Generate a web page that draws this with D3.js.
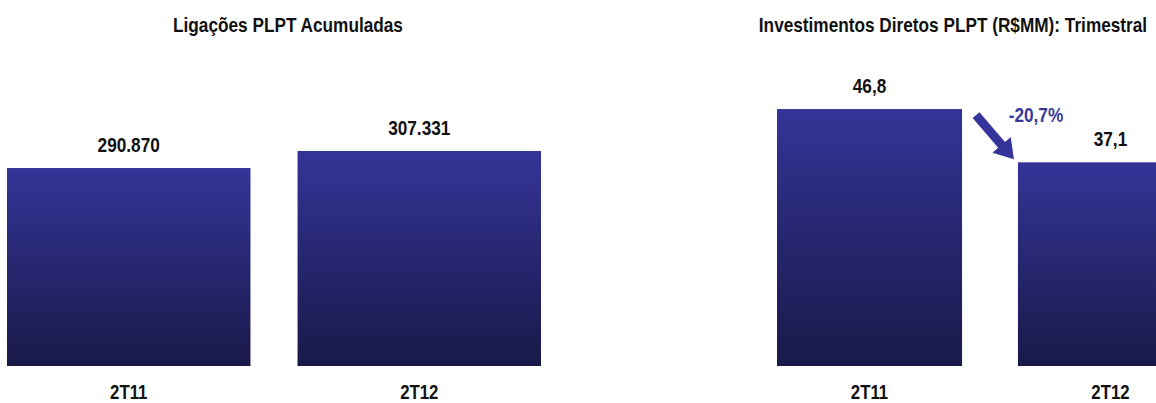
<!DOCTYPE html>
<html>
<head>
<meta charset="utf-8">
<script src="https://cdn.jsdelivr.net/npm/d3@7"></script>
<style>
  html, body { margin: 0; padding: 0; background: #fff; }
  svg { display: block; }
  text { font-family: "Liberation Sans", Arial, sans-serif; font-weight: bold; }
</style>
</head>
<body>
<svg id="chart" width="1156" height="403"></svg>
<script>
// ---- Data ----
const categories = ["2T11", "2T12"];
const ligacoesValues = [290870, 307331];
const ligacoesLabels = ["290.870", "307.331"];
const investValues = [46.8, 37.1];
const investLabels = ["46,8", "37,1"];
const titles = ["Ligações PLPT Acumuladas", "Investimentos Diretos PLPT (R$MM): Trimestral"];
const changeLabel = "-20,7%";

// ---- Setup ----
const FONT = '"Liberation Sans", Arial, sans-serif';
const SQUEEZE = 0.84; // emulate a narrow bold face
const svg = d3.select("#chart");
const defs = svg.append("defs");
const grad = defs.append("linearGradient")
  .attr("id", "barGrad").attr("x1", 0).attr("y1", 0).attr("x2", 0).attr("y2", 1);
grad.append("stop").attr("offset", "0%").attr("stop-color", "#343498");
grad.append("stop").attr("offset", "100%").attr("stop-color", "#191949");

// horizontally compress a text around its anchor x
function squeeze(sel) {
  sel.each(function () {
    const el = d3.select(this);
    const x = +el.attr("x") || 0;
    const prev = el.attr("transform") || "";
    el.attr("transform", `${prev} translate(${x * (1 - SQUEEZE)},0) scale(${SQUEEZE},1)`);
  });
}

const baseline = 366;

function drawPanel(opts) {
  const x = d3.scaleBand().domain(categories).range(opts.xRange)
    .paddingInner(opts.padInner).paddingOuter(0);
  const y = d3.scaleLinear().domain(opts.yDomain).range([baseline, opts.yTop]);
  const g = svg.append("g");
  const data = categories.map((c, i) => ({ c, v: opts.values[i], label: opts.labels[i] }));

  g.selectAll("rect.bar").data(data).join("rect")
    .attr("class", "bar")
    .attr("x", d => x(d.c))
    .attr("width", x.bandwidth())
    .attr("y", d => y(d.v))
    .attr("height", d => baseline - y(d.v))
    .attr("fill", "url(#barGrad)");

  g.selectAll("text.val").data(data).join("text")
    .attr("class", "val")
    .attr("x", d => x(d.c) + x.bandwidth() / 2)
    .attr("y", d => y(d.v) - 16)
    .attr("text-anchor", "middle")
    .attr("font-size", 20.5)
    .attr("fill", "#111")
    .text(d => d.label)
    .call(squeeze);

  // category axis (no line, no ticks)
  const axis = d3.axisBottom(x).tickSize(0).tickPadding(0);
  const ag = g.append("g").attr("transform", `translate(0,${baseline + 33})`).call(axis);
  ag.select(".domain").remove();
  ag.selectAll("text")
    .attr("dy", 0)
    .attr("x", 0)
    .style("font-family", FONT)
    .style("font-weight", "bold")
    .style("font-size", "20px")
    .attr("fill", "#111")
    .call(squeeze);

  g.append("text")
    .attr("x", opts.titleX)
    .attr("y", 32)
    .attr("text-anchor", "middle")
    .attr("font-size", 20.5)
    .attr("fill", "#111")
    .text(opts.title)
    .call(squeeze);

  return { x, y };
}

drawPanel({
  xRange: [7, 541], padInner: 0.162,
  yDomain: [100000, 350000], yTop: 106.7,
  values: ligacoesValues, labels: ligacoesLabels,
  title: titles[0], titleX: 288
});

const right = drawPanel({
  xRange: [777, 1203], padInner: 0.232,
  yDomain: [0, 50], yTop: 91.5,
  values: investValues, labels: investLabels,
  title: titles[1], titleX: 953
});

// ---- Change arrow ----
const rx = right.x, ry = right.y;
const x1Right = rx(categories[0]) + rx.bandwidth();
const y1Top = ry(investValues[0]);
const x2Left = rx(categories[1]);
const y2Top = ry(investValues[1]);
const tail = [x1Right + 14, y1Top + 6];
const tip = [x2Left - 4, y2Top - 3];
const dx = tip[0] - tail[0], dy = tip[1] - tail[1];
const len = Math.hypot(dx, dy);
const ux = dx / len, uy = dy / len;
const px = -uy, py = ux;
const shaftW = 9, headW = 24, headL = 19;
const hb = [tip[0] - ux * headL, tip[1] - uy * headL];
const pts = [
  [tail[0] + px * shaftW / 2, tail[1] + py * shaftW / 2],
  [hb[0] + px * shaftW / 2, hb[1] + py * shaftW / 2],
  [hb[0] + px * headW / 2, hb[1] + py * headW / 2],
  tip,
  [hb[0] - px * headW / 2, hb[1] - py * headW / 2],
  [hb[0] - px * shaftW / 2, hb[1] - py * shaftW / 2],
  [tail[0] - px * shaftW / 2, tail[1] - py * shaftW / 2]
];
svg.append("polygon")
  .attr("points", pts.map(p => p.join(",")).join(" "))
  .attr("fill", "#34349a");

svg.append("text")
  .attr("x", 1036)
  .attr("y", 122)
  .attr("text-anchor", "middle")
  .attr("font-size", 20.5)
  .attr("fill", "#3a3a9c")
  .text(changeLabel)
  .call(squeeze);
</script>
</body>
</html>
